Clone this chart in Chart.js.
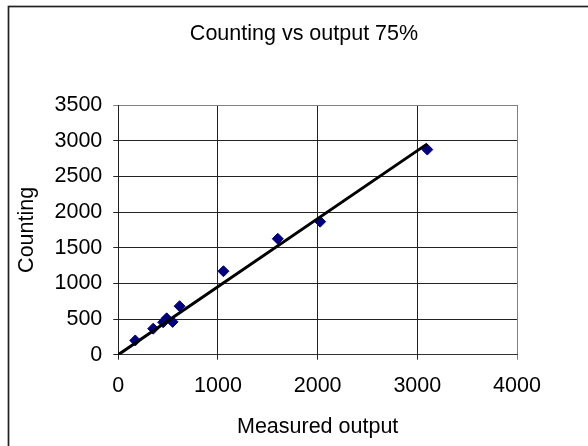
<!DOCTYPE html>
<html>
<head>
<meta charset="utf-8">
<script src="https://cdn.jsdelivr.net/npm/chart.js@4/dist/chart.umd.min.js"></script>
<style>
    html, body { margin: 0; padding: 0; background: #fff; }
    #wrap { width: 588px; height: 446px; }
</style>
</head>
<body>
<div id="wrap"><canvas id="chart" width="588" height="446"></canvas></div>
<script>
'use strict';

// values
const measuredOutput = [170, 350, 450, 485, 545, 615, 1055, 1600, 2025, 3100];
const counting = [200, 365, 455, 510, 460, 680, 1170, 1625, 1865, 2875];

// linear trendline (through origin), ends
const trendOutput = [0, 3100];
const trendCounting = [0, 2955];

const chartTitle = 'Counting vs output 75%';
const xTitle = 'Measured output';
const yTitle = 'Counting';

const FONT = '"Liberation Sans", Arial, sans-serif';
const FONT_SIZE = 21.5;

function toPoints (xs, ys) {
    return xs.map((x, i) => ({ x: x, y: ys[i] }));
}

// plain numbers, no thousands separator
function plain (value) {
    return String(value);
}

// outer chart frame + title (title sits off-centre in the reference)
const frame = {
    id: 'frame',
    afterDraw (chart) {
        const ctx = chart.ctx;
        ctx.save();
        ctx.strokeStyle = '#222';
        ctx.lineWidth = 1.7;
        ctx.strokeRect(8.5, 6.5, 700, 700);
        ctx.fillStyle = '#000';
        ctx.font = FONT_SIZE + 'px ' + FONT;
        ctx.textAlign = 'center';
        ctx.textBaseline = 'middle';
        ctx.fillText(chartTitle, 304, 34);
        ctx.restore();
    }
};

new Chart(document.getElementById('chart'), {
    type: 'scatter',
    data: {
        datasets: [
            {
                type: 'line',
                label: 'trend',
                data: toPoints(trendOutput, trendCounting),
                borderColor: '#000',
                borderWidth: 3,
                pointRadius: 0,
                fill: false
            },
            {
                label: 'data',
                data: toPoints(measuredOutput, counting),
                pointStyle: 'rectRot',
                pointRadius: 5.5,
                backgroundColor: '#000080',
                borderColor: '#000080',
                borderWidth: 1
            }
        ]
    },
    options: {
        responsive: false,
        animation: false,
        devicePixelRatio: 1,
        layout: {
            padding: { left: 10, top: 105, right: 71, bottom: 0 }
        },
        plugins: {
            legend: { display: false },
            tooltip: { enabled: false },
            title: { display: false }
        },
        scales: {
            x: {
                type: 'linear',
                min: 0,
                max: 4000,
                ticks: {
                    stepSize: 1000,
                    padding: 13,
                    color: '#000',
                    font: { family: FONT, size: FONT_SIZE },
                    maxRotation: 0,
                    callback: plain
                },
                grid: {
                    color: (c) => c.tick && c.tick.value === 4000 ? '#808080' : '#222',
                    lineWidth: 1,
                    tickLength: 5
                },
                border: { color: '#333', width: 1 },
                title: {
                    display: true,
                    text: xTitle,
                    color: '#000',
                    font: { family: FONT, size: FONT_SIZE },
                    padding: { top: 0, bottom: 6 }
                },
                afterFit: (scale) => { scale.height = 91.3; }
            },
            y: {
                type: 'linear',
                min: 0,
                max: 3500,
                ticks: {
                    stepSize: 500,
                    padding: 11,
                    color: '#000',
                    font: { family: FONT, size: FONT_SIZE },
                    callback: plain
                },
                grid: {
                    color: (c) => c.tick && c.tick.value === 3500 ? '#808080' : '#222',
                    lineWidth: 1,
                    tickLength: 5
                },
                border: { color: '#222', width: 1 },
                title: {
                    display: true,
                    text: yTitle,
                    color: '#000',
                    font: { family: FONT, size: FONT_SIZE },
                    padding: { top: 4, bottom: 0 }
                },
                afterFit: (scale) => { scale.width = 108.3; }
            }
        }
    },
    plugins: [frame]
});
</script>
</body>
</html>
